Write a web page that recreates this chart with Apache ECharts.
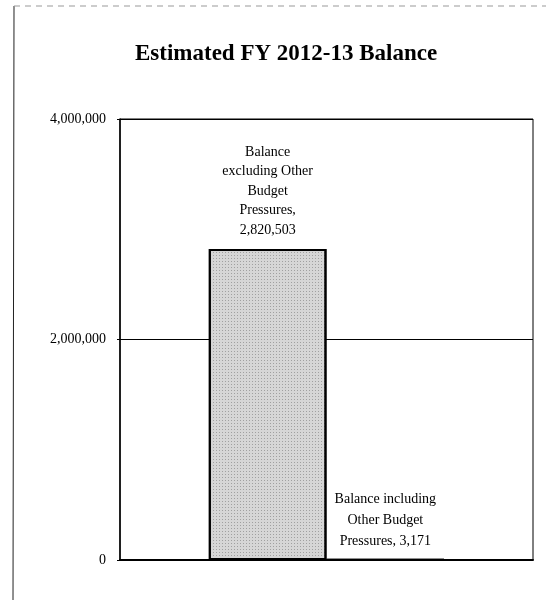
<!DOCTYPE html>
<html>
<head>
<meta charset="utf-8">
<script src="https://cdn.jsdelivr.net/npm/echarts@6/dist/echarts.min.js"></script>
<style>
html,body{margin:0;padding:0;background:#fff;}
#chart{width:546px;height:600px;}
</style>
</head>
<body>
<div id="chart"></div>
<script>
const titleText = 'Estimated FY 2012-13 Balance';
const categories = ['FY 2012-13'];
const seriesNames = ['Balance excluding Other Budget Pressures', 'Balance including Other Budget Pressures'];
const values = [2820503, 3171];
const labelTexts = [
  'Balance\nexcluding Other\nBudget\nPressures,\n2,820,503',
  'Balance including\nOther Budget\nPressures, 3,171'
];
const yTicks = [0, 2000000, 4000000];

const fmt = v => v.toLocaleString('en-US');
const serif = '"Liberation Serif", "DejaVu Serif", serif';

const chart = echarts.init(document.getElementById('chart'), null, {renderer: 'canvas'});
chart.setOption({
  backgroundColor: '#fff',
  animation: false,
  title: {
    text: titleText,
    left: 130,
    top: 38,
    textStyle: {fontFamily: serif, fontWeight: 'bold', fontSize: 23, color: '#000'}
  },
  graphic: [
    {type: 'line', shape: {x1: 14, y1: 6, x2: 13, y2: 600}, style: {stroke: '#222', lineWidth: 1}},
    {type: 'line', shape: {x1: 14, y1: 6, x2: 546, y2: 6}, style: {stroke: '#999', lineWidth: 1, lineDash: [6, 5]}}
  ],
  grid: {left: 120, right: 13, top: 119, bottom: 40, show: true, borderColor: '#000', borderWidth: 1, backgroundColor: 'transparent'},
  xAxis: {
    type: 'category',
    data: categories,
    axisLine: {show: true, lineStyle: {color: '#000', width: 2}},
    axisTick: {show: false},
    axisLabel: {show: false}
  },
  yAxis: {
    type: 'value',
    min: yTicks[0],
    max: yTicks[yTicks.length - 1],
    interval: yTicks[1] - yTicks[0],
    axisLine: {show: true, lineStyle: {color: '#000', width: 1.5}},
    axisTick: {show: true, length: 3, lineStyle: {color: '#000'}},
    axisLabel: {formatter: v => fmt(v), fontFamily: serif, fontSize: 14, color: '#000', margin: 14},
    splitLine: {show: true, lineStyle: {color: '#000', width: 1}}
  },
  series: seriesNames.map((name, i) => ({
    name: name,
    type: 'bar',
    data: [values[i]],
    barGap: '0%',
    barCategoryGap: '43%',
    itemStyle: {
      color: '#d6d6d6',
      borderColor: '#000',
      borderWidth: 2,
      decal: {symbol: 'rect', symbolSize: 1, dashArrayX: [1, 2], dashArrayY: [1, 2], color: 'rgba(0,0,0,0.25)'}
    },
    label: {
      show: true,
      position: 'top',
      distance: i === 0 ? 9 : 7,
      formatter: () => labelTexts[i],
      fontFamily: serif,
      fontSize: 14,
      lineHeight: i === 0 ? 19.5 : 21,
      color: '#000',
      align: 'center'
    }
  }))
});
</script>
</body>
</html>
